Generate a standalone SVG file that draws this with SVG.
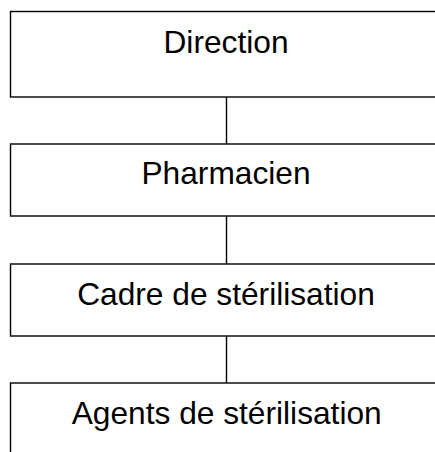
<svg xmlns="http://www.w3.org/2000/svg" width="435" height="452" viewBox="0 0 435 452">
<style>
.box{fill:#fff;stroke:#000;stroke-width:1.4}
.lbl{font-family:"Liberation Sans",Arial,sans-serif;font-size:31.7px;fill:#000;text-anchor:middle}
.conn{stroke:#000;stroke-width:1.4;fill:none}
</style>
<rect width="435" height="452" fill="#fff"/>
<g id="connectors">
<line class="conn" x1="226.5" y1="97" x2="226.5" y2="144"/>
<line class="conn" x1="226.5" y1="216" x2="226.5" y2="264"/>
<line class="conn" x1="226.5" y1="336" x2="226.5" y2="383"/>
</g>
<g id="direction">
<rect class="box" x="10.5" y="11.5" width="440" height="85.5"/>
<text class="lbl" x="226" y="53">Direction</text>
</g>
<g id="pharmacien">
<rect class="box" x="10.5" y="144" width="440" height="72"/>
<text class="lbl" x="226" y="184">Pharmacien</text>
</g>
<g id="cadre">
<rect class="box" x="10.5" y="264" width="440" height="72"/>
<text class="lbl" x="226" y="305">Cadre de stérilisation</text>
</g>
<g id="agents">
<rect class="box" x="10.5" y="383" width="440" height="90"/>
<text class="lbl" x="226.7" y="424">Agents de stérilisation</text>
</g>
</svg>
